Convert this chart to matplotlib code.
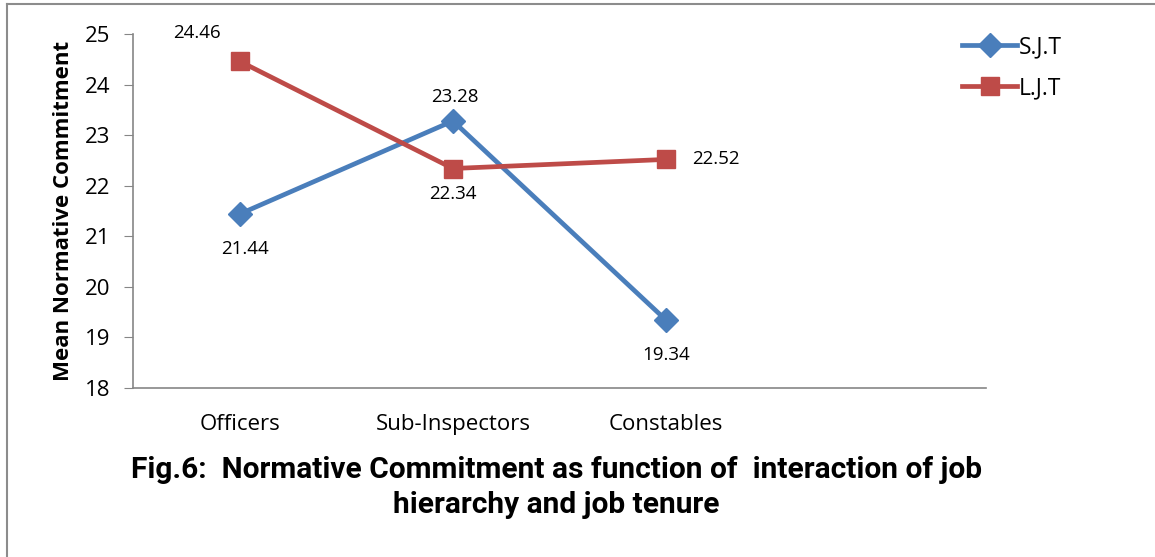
import matplotlib
matplotlib.use("Agg")
import matplotlib.pyplot as plt
from matplotlib.lines import Line2D

plt.rcParams['font.family'] = ["Open Sans", "DejaVu Sans"]

categories = ["Officers", "Sub-Inspectors", "Constables"]
sjt = [21.44, 23.28, 19.34]
ljt = [24.46, 22.34, 22.52]
yticks = [18, 19, 20, 21, 22, 23, 24, 25]

blue = "#4A7EBB"
red = "#BE4B48"

fig = plt.figure(figsize=(11.55, 5.57), dpi=100)
ax = fig.add_axes([0.1152, 0.3034, 0.7385, 0.6356])

xs = list(range(len(categories)))
ax.plot(xs, sjt, color=blue, lw=3.4, marker="D", ms=12, label="S.J.T", zorder=3)
ax.plot(xs, ljt, color=red, lw=3.4, marker="s", ms=13.5, label="L.J.T", zorder=4)

# data labels, placed like the original
sjt_off = [(5, -35), (2, 24), (0, -35)]
ljt_off = [(-43, 28), (0, -25), (50, 0)]
for x, v, (dx, dy) in zip(xs, sjt, sjt_off):
    ax.annotate(f"{v:.2f}", (x, v), xytext=(dx, dy), textcoords="offset pixels",
                ha="center", va="center", fontsize=13.5)
for x, v, (dx, dy) in zip(xs, ljt, ljt_off):
    ax.annotate(f"{v:.2f}", (x, v), xytext=(dx, dy), textcoords="offset pixels",
                ha="center", va="center", fontsize=13.5)

ax.set_xlim(-0.5, 3.5)
ax.set_ylim(18, 25)
ax.set_yticks(yticks)
ax.set_xticks(xs)
ax.set_xticklabels(categories, fontsize=16)
ax.tick_params(axis="y", labelsize=16, length=6.5, color="#868686", direction="out", pad=10)
ax.tick_params(axis="x", length=0, pad=19)
for s in ["top", "right"]:
    ax.spines[s].set_visible(False)
for s in ["left", "bottom"]:
    ax.spines[s].set_color("#868686")
    ax.spines[s].set_linewidth(1.2)

ax.set_ylabel("Mean Normative Commitment", fontsize=16, fontweight="bold", labelpad=8)

ax.legend(loc="upper left", bbox_to_anchor=(0.948, 1.055), frameon=False, fontsize=16.5,
          handlelength=2.4, handletextpad=0.05, labelspacing=0.75)

fig.text(0.482, 0.124, "Fig.6:  Normative Commitment as function of  interaction of job\nhierarchy and job tenure",
         ha="center", va="center", fontsize=21.5, fontweight="bold", family=["Roboto", "DejaVu Sans"],
         linespacing=1.32)

# outer frame (left and top edges visible)
fig.add_artist(Line2D([0.006, 0.006], [0, 0.992], transform=fig.transFigure, color="#8c8c8c", lw=1.5))
fig.add_artist(Line2D([0.006, 1], [0.992, 0.992], transform=fig.transFigure, color="#8c8c8c", lw=1.5))

fig.savefig("out.png", dpi=100)
